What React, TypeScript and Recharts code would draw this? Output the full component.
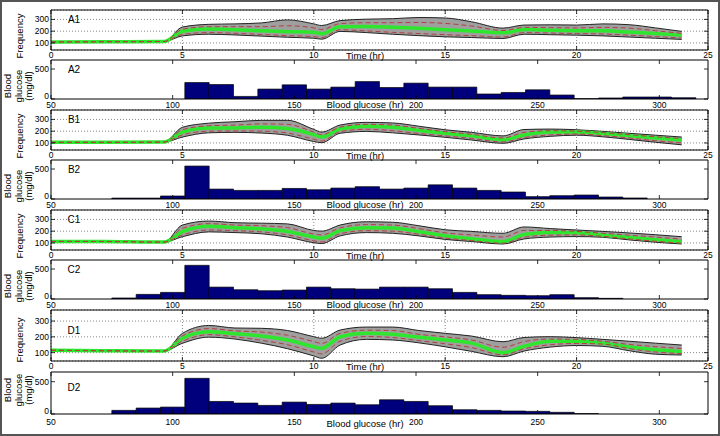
import {
  Area,
  Bar,
  CartesianGrid,
  ComposedChart,
  Line,
  XAxis,
  YAxis,
} from "recharts";

const FONT = "'Liberation Sans', Arial, sans-serif";

// time course panels (hr)
const hours = [0, 2, 4.3, 5, 6, 7, 8, 9, 10, 10.3, 11, 12, 13, 14, 15, 16, 17.2, 18, 19, 20, 21, 22, 23, 24];
const timeTicks = [0, 5, 10, 15, 20, 25];
const freqTicks = [100, 200, 300];

const a1Upper = [108, 110, 112, 235, 258, 262, 270, 296, 262, 248, 290, 302, 306, 316, 312, 280, 226, 252, 254, 252, 262, 255, 228, 198];
const a1UpperDash = [108, 110, 112, 216, 238, 238, 238, 246, 228, 214, 264, 272, 272, 274, 266, 244, 206, 232, 230, 228, 232, 226, 204, 182];
const a1Mean = [108, 110, 112, 200, 218, 212, 204, 196, 190, 178, 238, 240, 234, 224, 212, 202, 186, 214, 208, 204, 203, 192, 180, 166];
const a1LowerDash = [108, 110, 112, 172, 188, 182, 172, 162, 154, 146, 212, 202, 190, 180, 170, 162, 150, 188, 184, 180, 176, 166, 154, 142];
const a1Lower = [108, 110, 112, 160, 174, 168, 158, 148, 140, 132, 198, 188, 174, 162, 152, 146, 138, 174, 170, 166, 160, 150, 140, 130];

const b1Upper = [105, 105, 107, 233, 268, 280, 292, 292, 215, 192, 252, 275, 270, 242, 212, 190, 160, 214, 218, 212, 198, 182, 166, 150];
const b1UpperDash = [105, 105, 107, 212, 246, 252, 262, 258, 192, 170, 234, 258, 252, 224, 196, 174, 142, 190, 204, 200, 188, 170, 152, 138];
const b1Mean = [105, 105, 107, 192, 226, 228, 234, 222, 170, 150, 218, 242, 234, 206, 182, 160, 128, 168, 192, 192, 180, 162, 142, 125];
const b1LowerDash = [105, 105, 107, 168, 200, 202, 200, 184, 132, 116, 196, 216, 204, 180, 160, 138, 108, 146, 168, 176, 162, 142, 118, 100];
const b1Lower = [105, 105, 107, 150, 186, 190, 184, 165, 112, 102, 182, 198, 186, 168, 148, 125, 97, 134, 156, 166, 152, 130, 106, 84];

const c1Upper = [113, 112, 107, 252, 286, 272, 268, 262, 206, 200, 252, 280, 276, 246, 212, 198, 182, 236, 222, 210, 198, 185, 170, 153];
const c1UpperDash = [113, 112, 107, 224, 264, 252, 246, 230, 176, 168, 228, 256, 252, 222, 186, 168, 150, 206, 206, 198, 182, 166, 150, 132];
const c1Mean = [113, 112, 107, 196, 242, 230, 220, 198, 150, 140, 205, 230, 226, 196, 162, 136, 111, 172, 188, 186, 166, 146, 128, 111];
const c1LowerDash = [113, 112, 107, 168, 210, 204, 194, 168, 118, 108, 178, 204, 200, 174, 142, 120, 98, 148, 166, 168, 156, 134, 114, 98];
const c1Lower = [113, 112, 107, 153, 194, 188, 178, 150, 102, 95, 160, 188, 182, 160, 130, 112, 91, 134, 150, 154, 148, 126, 106, 91];

const d1Upper = [115, 112, 110, 222, 272, 256, 254, 240, 201, 191, 243, 262, 262, 240, 222, 205, 169, 196, 201, 195, 184, 172, 160, 148];
const d1UpperDash = [115, 112, 110, 206, 252, 238, 230, 210, 170, 158, 222, 242, 240, 216, 200, 180, 134, 170, 186, 184, 172, 152, 138, 126];
const d1Mean = [115, 112, 110, 191, 232, 220, 205, 180, 137, 127, 201, 222, 216, 198, 180, 160, 100, 140, 172, 172, 160, 135, 118, 106];
const d1LowerDash = [115, 112, 110, 172, 214, 200, 178, 150, 104, 92, 172, 202, 196, 176, 156, 132, 86, 124, 150, 158, 154, 126, 104, 94];
const d1Lower = [115, 112, 110, 159, 198, 186, 160, 125, 79, 64, 148, 184, 180, 162, 137, 108, 74, 110, 135, 145, 140, 112, 90, 85];

// histogram panels, bin centres (mg/dl)
const glucoseBins = [80, 90, 100, 110, 120, 130, 140, 150, 160, 170, 180, 190, 200, 210, 220, 230, 240, 250, 260, 270, 280, 290, 300, 310];
const glucoseTicks = [50, 100, 150, 200, 250, 300];
const countTicks = [0, 500];

const a2Counts = [0, 0, 0, 274, 241, 43, 165, 236, 165, 198, 290, 191, 264, 198, 198, 83, 109, 153, 66, 4, 17, 33, 33, 21];
const b2Counts = [15, 15, 50, 549, 165, 143, 143, 176, 154, 182, 205, 165, 182, 236, 182, 143, 116, 39, 55, 66, 33, 17, 0, 0];
const c2Counts = [17, 77, 110, 561, 198, 154, 138, 149, 198, 171, 165, 198, 198, 171, 110, 72, 61, 55, 72, 22, 11, 0, 0, 0];
const d2Counts = [56, 92, 107, 552, 194, 169, 133, 184, 148, 169, 143, 220, 194, 128, 66, 56, 46, 41, 26, 5, 0, 0, 0, 0];

const LEFT = 51;
const RIGHT = 708;

function BottomTick(props: any) {
  const { x, y, payload, dy } = props;
  return (
    <g>
      <line x1={x} x2={x} y1={y} y2={y - 4} stroke="#000" strokeWidth={0.8} />
      <text x={x} y={y + dy} textAnchor="middle" fontSize={8.5} fontFamily={FONT} fill="#000">
        {payload.value}
      </text>
    </g>
  );
}

function LeftTick(props: any) {
  const { x, y, payload, lift } = props;
  const dy = lift && payload.value === 0 ? 0 : 3;
  return (
    <g>
      <line x1={x} x2={x + 4} y1={y} y2={y} stroke="#000" strokeWidth={0.8} />
      <text x={x - 2} y={y + dy} textAnchor="end" fontSize={8.5} fontFamily={FONT} fill="#000">
        {payload.value}
      </text>
    </g>
  );
}

function RightTick(props: any) {
  const { x, y } = props;
  return <line x1={x} x2={x - 4} y1={y} y2={y} stroke="#000" strokeWidth={0.8} />;
}

function TopTick(props: any) {
  const { x, y } = props;
  return <line x1={x} x2={x} y1={y} y2={y + 4} stroke="#000" strokeWidth={0.8} />;
}

function Text({ x, y, children, size = 9.5 }: any) {
  return (
    <div
      style={{
        position: "absolute",
        left: x,
        top: y,
        transform: "translate(-50%, -50%)",
        fontFamily: FONT,
        fontSize: size,
        whiteSpace: "nowrap",
        color: "#000",
      }}
    >
      {children}
    </div>
  );
}

function VLabel({ x, y, lines }: { x: number; y: number; lines: string[] }) {
  return (
    <div
      style={{
        position: "absolute",
        left: x,
        top: y,
        transform: "translate(-50%, -50%) rotate(-90deg)",
        fontFamily: FONT,
        fontSize: 9.5,
        lineHeight: "10.5px",
        textAlign: "center",
        whiteSpace: "nowrap",
        color: "#000",
      }}
    >
      {lines.map((l) => (
        <div key={l}>{l}</div>
      ))}
    </div>
  );
}

const axisBase = {
  type: "number" as const,
  interval: 0 as const,
  tickSize: 0,
  tickMargin: 0,
  allowDataOverflow: true,
  axisLine: { stroke: "#000", strokeWidth: 1 },
};

interface TimeProps {
  top: number;
  h: number;
  domain: [number, number];
  upper: number[];
  upperDash: number[];
  mean: number[];
  lowerDash: number[];
  lower: number[];
}

function TimePanel({ top, h, domain, upper, upperDash, mean, lowerDash, lower }: TimeProps) {
  const rows = hours.map((t, i) => ({
    t,
    band: [lower[i], upper[i]],
    upper: upper[i],
    upperDash: upperDash[i],
    mean: mean[i],
    lowerDash: lowerDash[i],
    lower: lower[i],
  }));
  const pad = 6;
  return (
    <div style={{ position: "absolute", left: 0, top: top - pad }}>
      <ComposedChart
        width={720}
        height={h + pad + 16}
        data={rows}
        margin={{ top: pad - 1, right: 720 - RIGHT - 1, bottom: 15, left: LEFT - 1 }}
      >
        <CartesianGrid stroke="#555" strokeWidth={0.7} strokeDasharray="1 2" />
        <XAxis
          {...axisBase}
          dataKey="t"
          domain={[0, 25]}
          ticks={timeTicks}
          height={1}
          tick={(p: any) => <BottomTick {...p} dy={8} />}
        />
        <XAxis
          {...axisBase}
          xAxisId="top"
          orientation="top"
          dataKey="t"
          domain={[0, 25]}
          ticks={timeTicks}
          height={1}
          tick={(p: any) => <TopTick {...p} />}
        />
        <YAxis
          {...axisBase}
          domain={domain}
          ticks={freqTicks}
          width={1}
          tick={(p: any) => <LeftTick {...p} />}
        />
        <YAxis
          {...axisBase}
          yAxisId="right"
          orientation="right"
          domain={domain}
          ticks={freqTicks}
          width={1}
          tick={(p: any) => <RightTick {...p} />}
        />
        <Area
          dataKey="band"
          type="monotone"
          fill="#9f9f9f"
          fillOpacity={1}
          stroke="none"
          isAnimationActive={false}
        />
        <Line dataKey="upper" type="monotone" stroke="#222" strokeWidth={1} dot={false} isAnimationActive={false} />
        <Line dataKey="lower" type="monotone" stroke="#222" strokeWidth={1} dot={false} isAnimationActive={false} />
        <Line dataKey="mean" type="monotone" stroke="#2fe62f" strokeWidth={3.5} dot={false} isAnimationActive={false} />
        <Line
          dataKey="upperDash"
          type="monotone"
          stroke="#b24040"
          strokeWidth={1}
          strokeDasharray="5 3"
          dot={false}
          isAnimationActive={false}
        />
        <Line
          dataKey="lowerDash"
          type="monotone"
          stroke="#b24040"
          strokeWidth={1}
          strokeDasharray="5 3"
          dot={false}
          isAnimationActive={false}
        />
      </ComposedChart>
    </div>
  );
}

function HistPanel({ top, h, counts, dy }: { top: number; h: number; counts: number[]; dy: number }) {
  const rows = glucoseBins.map((g, i) => ({ g, n: counts[i] }));
  const pad = 6;
  return (
    <div style={{ position: "absolute", left: 0, top: top - pad }}>
      <ComposedChart
        width={720}
        height={h + pad + 16}
        data={rows}
        margin={{ top: pad - 1, right: 720 - RIGHT - 1, bottom: 15, left: LEFT - 1 }}
        barCategoryGap={0}
        barGap={0}
      >
        <XAxis
          {...axisBase}
          dataKey="g"
          domain={[50, 320]}
          ticks={glucoseTicks}
          height={1}
          tick={(p: any) => <BottomTick {...p} dy={dy} />}
        />
        <XAxis
          {...axisBase}
          xAxisId="top"
          orientation="top"
          dataKey="g"
          domain={[50, 320]}
          ticks={glucoseTicks}
          height={1}
          tick={(p: any) => <TopTick {...p} />}
        />
        <YAxis
          {...axisBase}
          domain={[0, 650]}
          ticks={countTicks}
          width={1}
          tick={(p: any) => <LeftTick {...p} lift />}
        />
        <YAxis
          {...axisBase}
          yAxisId="right"
          orientation="right"
          domain={[0, 650]}
          ticks={countTicks}
          width={1}
          tick={(p: any) => <RightTick {...p} />}
        />
        <Bar
          dataKey="n"
          fill="#00007c"
          stroke="#000"
          strokeWidth={0.7}
          barSize={24.33}
          isAnimationActive={false}
        />
      </ComposedChart>
    </div>
  );
}

const freqLabel = ["Frequency"];
const bgLabel = ["Blood", "glucose", "(mg/dl)"];

export default function App() {
  return (
    <div style={{ position: "relative", width: 720, height: 436, background: "#fff", overflow: "hidden" }}>
      <style>{"body{margin:0}"}</style>

      <TimePanel top={10} h={40} domain={[40, 380]} upper={a1Upper} upperDash={a1UpperDash} mean={a1Mean} lowerDash={a1LowerDash} lower={a1Lower} />
      <HistPanel top={60} h={39} counts={a2Counts} dy={9} />
      <TimePanel top={110} h={40} domain={[40, 380]} upper={b1Upper} upperDash={b1UpperDash} mean={b1Mean} lowerDash={b1LowerDash} lower={b1Lower} />
      <HistPanel top={160} h={39} counts={b2Counts} dy={9} />
      <TimePanel top={210} h={40} domain={[40, 380]} upper={c1Upper} upperDash={c1UpperDash} mean={c1Mean} lowerDash={c1LowerDash} lower={c1Lower} />
      <HistPanel top={260} h={39} counts={c2Counts} dy={9} />
      <TimePanel top={310} h={51} domain={[47, 370]} upper={d1Upper} upperDash={d1UpperDash} mean={d1Mean} lowerDash={d1LowerDash} lower={d1Lower} />
      <HistPanel top={372} h={42} counts={d2Counts} dy={11} />

      <Text x={74} y={19} size={10}>A1</Text>
      <Text x={74} y={69} size={10}>A2</Text>
      <Text x={74} y={119} size={10}>B1</Text>
      <Text x={74} y={169} size={10}>B2</Text>
      <Text x={74} y={219} size={10}>C1</Text>
      <Text x={74} y={269} size={10}>C2</Text>
      <Text x={74} y={330} size={10}>D1</Text>
      <Text x={74} y={387} size={10}>D2</Text>

      <Text x={365} y={55}>Time (hr)</Text>
      <Text x={365} y={104}>Blood glucose (hr)</Text>
      <Text x={365} y={155}>Time (hr)</Text>
      <Text x={365} y={204}>Blood glucose (hr)</Text>
      <Text x={365} y={255}>Time (hr)</Text>
      <Text x={365} y={304}>Blood glucose (hr)</Text>
      <Text x={365} y={366}>Time (hr)</Text>
      <Text x={365} y={423}>Blood glucose (hr)</Text>

      <VLabel x={20} y={36} lines={freqLabel} />
      <VLabel x={19} y={86} lines={bgLabel} />
      <VLabel x={20} y={136} lines={freqLabel} />
      <VLabel x={19} y={186} lines={bgLabel} />
      <VLabel x={20} y={236} lines={freqLabel} />
      <VLabel x={19} y={286} lines={bgLabel} />
      <VLabel x={20} y={340} lines={freqLabel} />
      <VLabel x={19} y={390} lines={bgLabel} />

      <div
        style={{
          position: "absolute",
          left: 0,
          top: 0,
          width: 720,
          height: 436,
          boxSizing: "border-box",
          border: "2px solid #555",
          pointerEvents: "none",
        }}
      />
    </div>
  );
}
